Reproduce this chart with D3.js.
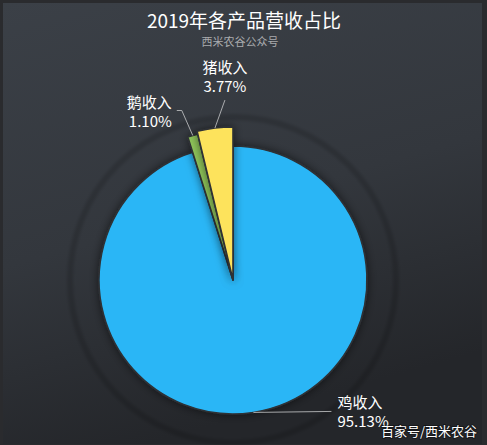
<!DOCTYPE html>
<html>
<head>
<meta charset="utf-8">
<script src="https://cdn.jsdelivr.net/npm/d3@7/dist/d3.min.js"></script>
<style>
  html, body { margin: 0; padding: 0; background: #2b2d31; }
  svg { display: block; font-family: "Noto Sans CJK SC", "Noto Sans", sans-serif; }
</style>
</head>
<body>
<svg id="chart"></svg>
<script>
// data
const categories = ["鸡收入", "鹅收入", "猪收入"];
const shares = [95.13, 1.10, 3.77];
const shareLabels = ["95.13%", "1.10%", "3.77%"];
const sliceColors = ["#29b6f6", "#8fc45a", "#fde35b"];

const width = 487;
const height = 445;
const cx = 233, cy = 280;
// the two small slices stand out a bit further
const outerRadii = [134, 150, 153];

const svg = d3.select("#chart").attr("width", width).attr("height", height);
const defs = svg.append("defs");

// background gradient
const bg = defs.append("linearGradient")
  .attr("id", "bg").attr("x1", 0).attr("y1", 0).attr("x2", 0.3).attr("y2", 1);
bg.append("stop").attr("offset", "0%").attr("stop-color", "#3b4047");
bg.append("stop").attr("offset", "55%").attr("stop-color", "#33373d");
bg.append("stop").attr("offset", "100%").attr("stop-color", "#24262a");

const shadow = defs.append("filter").attr("id", "shadow")
  .attr("x", "-30%").attr("y", "-30%").attr("width", "160%").attr("height", "160%");
shadow.append("feDropShadow")
  .attr("dx", 0).attr("dy", 0).attr("stdDeviation", 5)
  .attr("flood-color", "#000").attr("flood-opacity", 0.55);

const blur = defs.append("filter").attr("id", "blur");
blur.append("feGaussianBlur").attr("stdDeviation", 1.5);

svg.append("rect").attr("width", width).attr("height", height).attr("fill", "#2a2b2e");
svg.append("rect")
  .attr("x", 3).attr("y", 3).attr("width", width - 8).attr("height", height - 4)
  .attr("fill", "url(#bg)");

// faint ring behind the pie
svg.append("circle")
  .attr("cx", cx).attr("cy", cy).attr("r", 163)
  .attr("fill", "none")
  .attr("stroke", "#000").attr("stroke-opacity", 0.15).attr("stroke-width", 6)
  .attr("filter", "url(#blur)");

// title
svg.append("text")
  .attr("x", 244).attr("y", 28)
  .attr("text-anchor", "middle")
  .attr("fill", "#ffffff").attr("font-size", 19)
  .text("2019年各产品营收占比");

svg.append("text")
  .attr("x", 240).attr("y", 46)
  .attr("text-anchor", "middle")
  .attr("fill", "#a9abae").attr("font-size", 11)
  .text("西米农谷公众号");

const data = categories.map((c, i) => ({ name: c, value: shares[i], label: shareLabels[i], color: sliceColors[i], r: outerRadii[i] }));

const pie = d3.pie().sort(null).value(d => d.value);
const arcs = pie(data);

const arc = d3.arc().innerRadius(0).outerRadius(d => d.data.r);

const g = svg.append("g").attr("transform", `translate(${cx},${cy})`);

g.selectAll("path.slice")
  .data(arcs)
  .enter()
  .append("path")
  .attr("class", "slice")
  .attr("d", arc)
  .attr("fill", d => d.data.color)
  .attr("stroke", "#2e3035")
  .attr("stroke-width", 1.6)
  .attr("stroke-linejoin", "round")
  .attr("filter", "url(#shadow)");

// label lines: start on the slice edge, then elbow offsets
const labelLayout = [
  { bend: [78, -1], end: [0, 0], anchor: "start", dx: 6, dy: 0 },
  { bend: [-11, -25], end: [-5, 0], anchor: "end", dx: -5, dy: 0 },
  { bend: [10, -28], end: [0, 0], anchor: "middle", dx: 0, dy: -24 }
];

arcs.forEach((d, i) => {
  const mid = (d.startAngle + d.endAngle) / 2;
  const r = d.data.r;
  const p0 = [Math.sin(mid) * r, -Math.cos(mid) * r];
  const L = labelLayout[i];
  const p1 = [p0[0] + L.bend[0], p0[1] + L.bend[1]];
  const p2 = [p1[0] + L.end[0], p1[1] + L.end[1]];

  g.append("path")
    .attr("d", d3.line()([p0, p1, p2]))
    .attr("fill", "none")
    .attr("stroke", "#c8c9cb")
    .attr("stroke-opacity", 0.8)
    .attr("stroke-width", 1);

  const t = g.append("text")
    .attr("text-anchor", L.anchor)
    .attr("fill", "#ffffff")
    .attr("font-size", 15);
  t.append("tspan")
    .attr("x", p2[0] + L.dx).attr("y", p2[1] + L.dy - 3)
    .text(d.data.name);
  t.append("tspan")
    .attr("x", p2[0] + L.dx).attr("y", p2[1] + L.dy + 16)
    .text(d.data.label);
});

// watermark
svg.append("text")
  .attr("x", 477).attr("y", 436)
  .attr("text-anchor", "end")
  .attr("fill", "#ffffff").attr("font-size", 13)
  .style("paint-order", "stroke")
  .attr("stroke", "rgba(0,0,0,0.35)").attr("stroke-width", 2)
  .text("百家号/西米农谷");
</script>
</body>
</html>
